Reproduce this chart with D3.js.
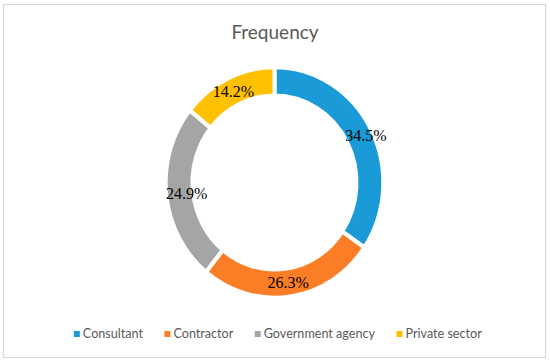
<!DOCTYPE html>
<html>
<head>
<meta charset="utf-8">
<script src="https://d3js.org/d3.v7.min.js"></script>
<style>
  html, body { margin: 0; padding: 0; background: #fff; }
  svg { display: block; }
</style>
</head>
<body>
<svg id="chart" width="550" height="363"></svg>
<script>
const categories = ["Consultant", "Contractor", "Government agency", "Private sector"];
const values = [34.5, 26.3, 24.9, 14.2];
const labels = ["34.5%", "26.3%", "24.9%", "14.2%"];
const colors = ["#1A9AD7", "#FB7E27", "#A5A5A5", "#FFC000"];
const title = "Frequency";

const SERIF = "'Times New Roman', 'Liberation Serif', Tinos, 'DejaVu Serif', serif";
const SANS = "Lato, 'Open Sans', sans-serif";

const svg = d3.select("#chart");
const W = 550, H = 363;

svg.append("rect").attr("x", 0).attr("y", 0).attr("width", W).attr("height", H).attr("fill", "#fff");
svg.append("rect")
  .attr("x", 3.5).attr("y", 4.5).attr("width", 542).attr("height", 353)
  .attr("fill", "#fff").attr("stroke", "#d9d9d9").attr("stroke-width", 1.2);

svg.append("text")
  .style("font-family", SANS)
  .attr("x", 275).attr("y", 39)
  .attr("text-anchor", "middle")
  .style("font-size", "19px")
  .attr("fill", "#595959")
  .text(title);

const cx = 274.5, cy = 182.5, rOuter = 108.8, rInner = 82, sy = 1.06;

const pie = d3.pie().sort(null).value(d => d)
  .startAngle(0).endAngle(2 * Math.PI);
const arcs = pie(values);
const arc = d3.arc().innerRadius(rInner).outerRadius(rOuter);
const labelArc = d3.arc().innerRadius((rInner + rOuter) / 2).outerRadius((rInner + rOuter) / 2);

const g = svg.append("g").attr("transform", `translate(${cx},${cy}) scale(1,${sy})`);
g.selectAll("path").data(arcs).join("path")
  .attr("d", arc)
  .attr("fill", (d, i) => colors[i])
  .attr("stroke", "#fff")
  .attr("stroke-width", 4)
  .attr("stroke-linejoin", "miter");

const lg = svg.append("g").attr("transform", `translate(${cx},${cy})`);
lg.selectAll("text").data(arcs).join("text")
  .style("font-family", SERIF)
  .style("font-size", "16px")
  .attr("x", d => {
    const c = labelArc.centroid(d)[0];
    return Math.abs(c) > 60 ? c + 7 : c;
  })
  .attr("y", d => labelArc.centroid(d)[1] * sy)
  .attr("dy", "0.35em")
  .attr("text-anchor", "middle")
  .attr("fill", "#000")
  .text((d, i) => labels[i]);

// Legend
const legend = svg.append("g");
const items = legend.selectAll("g").data(categories).join("g");
items.append("rect")
  .attr("width", 6).attr("height", 6)
  .attr("y", -3)
  .attr("fill", (d, i) => colors[i]);
items.append("text")
  .style("font-family", SANS)
  .style("font-size", "12.6px")
  .attr("x", 9)
  .attr("dy", "0.35em")
  .attr("fill", "#595959")
  .text(d => d);
const widths = [];
items.each(function () { widths.push(this.getBBox().width); });
const gap = 21;
const total = d3.sum(widths) + gap * (widths.length - 1);
const start = 278 - total / 2;
items.attr("transform", (d, i) => {
  const x = start + d3.sum(widths.slice(0, i)) + gap * i;
  return `translate(${x},334)`;
});
</script>
</body>
</html>
